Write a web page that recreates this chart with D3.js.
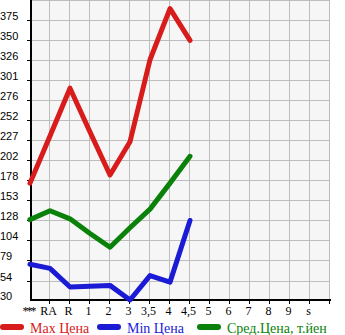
<!DOCTYPE html>
<html>
<head>
<meta charset="utf-8">
<script src="https://cdn.jsdelivr.net/npm/d3@7"></script>
<style>
  html, body { margin: 0; padding: 0; background: #fff; }
  svg { display: block; }
</style>
</head>
<body>
<div id="chart"></div>
<script>
// категории по оси X и три ряда цен (тыс. йен)
const categories = ["***", "RA", "R", "1", "2", "3", "3,5", "4", "4,5", "5", "6", "7", "8", "9", "s"];
const maxPrice = [174, 232, 291, 237, 184, 225, 326, 389, 350];
const minPrice = [74, 69, 46, 47, 48, 30, 60, 52, 128];
const avgPrice = [129, 140, 130, 112, 95, 119, 142, 174, 207];
const yTicks = [30, 54, 79, 104, 128, 153, 178, 202, 227, 252, 276, 301, 326, 350, 375];
const legendNames = ["Max Цена", "Min Цена", "Сред.Цена, т.йен"];
const colors = ["#d81b1b", "#1b1bd6", "#0a820a"];

const W = 345, H = 335;
const pLeft = 31, pRight = 330, pTop = 0, pBottom = 300;

const svg = d3.select("#chart").append("svg").attr("width", W).attr("height", H);

const x = d3.scaleLinear().domain([0, categories.length]).range([pLeft - 1, pRight]);
const yStep = (yTicks[yTicks.length - 1] - yTicks[0]) / (yTicks.length - 1);
const y = d3.scaleLinear().domain([yTicks[0], yTicks[0] + yTicks.length * yStep]).range([pBottom, pTop]);

// фон области графика
svg.append("rect").attr("x", pLeft).attr("y", pTop)
  .attr("width", pRight - pLeft).attr("height", pBottom - pTop).attr("fill", "#f6f6f6");

// сетка
const grid = svg.append("g").attr("stroke", "#bdbdbd").attr("stroke-width", 1);
grid.selectAll("line.h").data(yTicks.slice(1).concat([y.domain()[1]])).join("line")
  .attr("class", "h")
  .attr("x1", pLeft).attr("x2", pRight)
  .attr("y1", d => Math.round(y(d)) + 0.5).attr("y2", d => Math.round(y(d)) + 0.5);
grid.selectAll("line.v").data(d3.range(1, categories.length + 1)).join("line")
  .attr("class", "v")
  .attr("y1", pTop).attr("y2", pBottom)
  .attr("x1", d => Math.round(x(d)) - 0.5).attr("x2", d => Math.round(x(d)) - 0.5);

// ось Y
const gy = svg.append("g");
gy.append("line").attr("x1", pLeft).attr("x2", pLeft).attr("y1", pTop).attr("y2", pBottom + 1)
  .attr("stroke", "#000").attr("stroke-width", 2);
gy.selectAll("line.t").data(yTicks.slice(1)).join("line").attr("class", "t")
  .attr("x1", pLeft - 4).attr("x2", pLeft)
  .attr("y1", d => Math.round(y(d)) + 0.5).attr("y2", d => Math.round(y(d)) + 0.5)
  .attr("stroke", "#000");
gy.selectAll("text").data(yTicks).join("text")
  .attr("x", 0).attr("y", d => y(d))
  .attr("font-family", "Liberation Sans, Arial, sans-serif").attr("font-size", 11)
  .attr("fill", "#000")
  .text(d => d);

// ось X
const gx = svg.append("g");
gx.append("line").attr("x1", pLeft - 1).attr("x2", pRight + 1).attr("y1", pBottom).attr("y2", pBottom)
  .attr("stroke", "#000").attr("stroke-width", 2);
gx.selectAll("line.t").data(d3.range(1, categories.length + 1)).join("line").attr("class", "t")
  .attr("x1", d => Math.round(x(d)) - 0.5).attr("x2", d => Math.round(x(d)) - 0.5)
  .attr("y1", pBottom).attr("y2", pBottom + 4).attr("stroke", "#000");
gx.selectAll("text").data(categories).join("text")
  .attr("x", (d, i) => x(i) - 1.5).attr("y", pBottom + 15)
  .attr("text-anchor", "middle")
  .attr("font-family", "Liberation Serif, Times New Roman, serif").attr("font-size", 12)
  .attr("letter-spacing", d => d === "***" ? -2 : null)
  .attr("fill", "#000")
  .text(d => d);

// линии рядов
const line = d3.line().x((d, i) => x(i)).y(d => y(d));
[maxPrice, minPrice, avgPrice].forEach((s, k) => {
  svg.append("path").datum(s).attr("d", line)
    .attr("fill", "none").attr("stroke", colors[k]).attr("stroke-width", 5)
    .attr("stroke-linejoin", "round").attr("stroke-linecap", "round");
});

// легенда
const legX = [3, 100, 200];
const leg = svg.append("g");
legendNames.forEach((name, k) => {
  leg.append("line").attr("x1", legX[k]).attr("x2", legX[k] + 18)
    .attr("y1", 327).attr("y2", 327)
    .attr("stroke", colors[k]).attr("stroke-width", 6).attr("stroke-linecap", "round");
  leg.append("text").attr("x", legX[k] + 27).attr("y", 333)
    .attr("font-family", "Liberation Serif, Times New Roman, serif").attr("font-size", 14)
    .attr("fill", colors[k]).text(name);
});
</script>
</body>
</html>
